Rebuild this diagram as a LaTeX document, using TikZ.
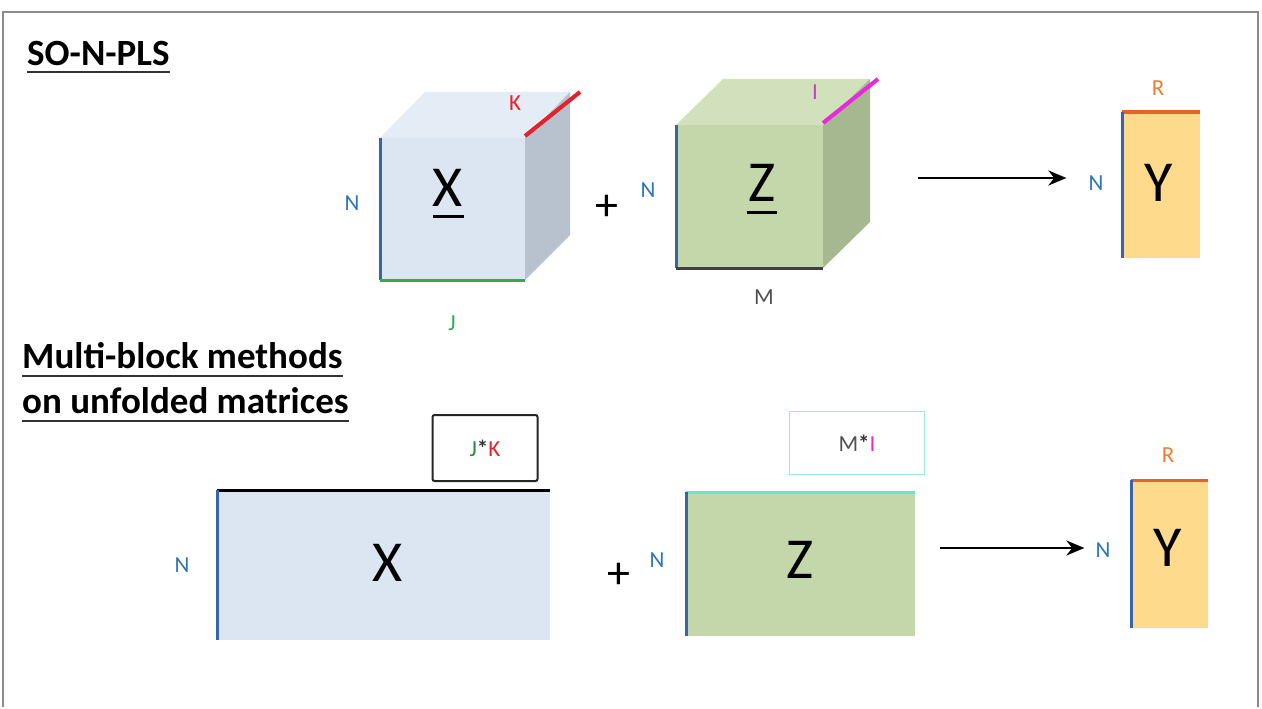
\documentclass[tikz,border=0pt]{standalone}
\usepackage{fontspec}
\setmainfont{Carlito}
\usetikzlibrary{arrows.meta}
\definecolor{xfront}{RGB}{220,230,242}
\definecolor{xtop}{RGB}{228,236,246}
\definecolor{xside}{RGB}{184,194,206}
\definecolor{zfront}{RGB}{196,215,170}
\definecolor{ztop}{RGB}{208,225,188}
\definecolor{zside}{RGB}{166,184,144}
\definecolor{yfill}{RGB}{254,218,140}
\definecolor{nblue}{RGB}{46,117,182}
\definecolor{edgeblue}{RGB}{58,100,170}
\definecolor{jgreen}{RGB}{50,170,80}
\definecolor{kred}{RGB}{232,32,42}
\definecolor{imag}{RGB}{236,40,220}
\definecolor{rorange}{RGB}{237,125,49}
\definecolor{rline}{RGB}{232,96,44}
\definecolor{zcyan}{RGB}{110,225,210}
\definecolor{mgrey}{RGB}{80,80,80}
\definecolor{framegrey}{RGB}{140,140,140}
\begin{document}
\begin{tikzpicture}[x=1pt,y=-1pt,
  lbl/.style={inner sep=0pt,font=\fontsize{23}{25}\selectfont},
  big/.style={inner sep=0pt,font=\fontsize{58}{62}\selectfont},
  head/.style={inner sep=0pt,anchor=base west,font=\bfseries\fontsize{37}{40}\selectfont},
  plus/.style={inner sep=0pt,font=\fontsize{46}{48}\selectfont},
  face/.style={draw=none,inner sep=0pt,anchor=north west},
  arr/.style={line width=2.5pt,-{Stealth[length=18pt,width=15pt]}},
  edge/.style={line width=3pt}]
\useasboundingbox (0,0) rectangle (1262,709);
\draw[framegrey,line width=2pt] (3,707) -- (3,12) -- (1258,12) -- (1258,707);

% headings
\node[head] (h1) at (27,66) {SO-N-PLS};
\draw[line width=2.5pt,black!80] ([yshift=-6pt]h1.base west) -- ([yshift=-6pt]h1.base east);
\node[head] (h2) at (22,368) {Multi-block methods};
\draw[line width=2.5pt,black!80] ([yshift=-8pt]h2.base west) -- ([yshift=-8pt]h2.base east);
\node[head] (h3) at (22,413) {on unfolded matrices};
\draw[line width=2.5pt,black!80] ([yshift=-8pt]h3.base west) -- ([yshift=-8pt]h3.base east);

% ---------- top row: cube X
\coordinate (xa) at (380,138); \coordinate (xb) at (525,138);
\coordinate (xc) at (525,280); \coordinate (xd) at (380,280);
\fill[xtop] (xa) -- ++(45,-46) -- ++(145,0) -- (xb) -- cycle;
\fill[xside] (xb) -- ++(45,-46) -- ++(0,143) -- (xc) -- cycle;
\fill[xfront] (xa) rectangle (xc);
\node[big] (X1) at (448,188) {X};
\draw[line width=3pt] (433,216) -- (464,216);
\draw[edge,edgeblue] (xa) -- (xd);
\draw[edge,jgreen] (xd) -- (xc);
\coordinate (kend) at (580,92);
\draw[line width=4pt,kred] ([yshift=2pt]xb) -- (kend);
\node[lbl,nblue] (n1) at (352,203) {N};
\node[lbl,jgreen] (j1) at (452,323) {J};
\node[lbl,kred] (k1) at (515,103) {K};
\node[plus] (p1) at (607,208) {+};

% cube Z
\coordinate (za) at (676,125); \coordinate (zb) at (823,125);
\coordinate (zc) at (823,268); \coordinate (zd) at (676,268);
\fill[ztop] (za) -- ++(47,-46) -- ++(147,0) -- (zb) -- cycle;
\fill[zside] (zb) -- ++(47,-46) -- ++(0,143) -- (zc) -- cycle;
\fill[zfront] (za) rectangle (zc);
\node[big] (Z1) at (762,183) {Z};
\draw[line width=3pt] (747,212) -- (777,212);
\draw[edge,edgeblue] (za) -- (zd);
\draw[edge,black!75] (zd) -- (zc);
\coordinate (iend) at (878,79);
\draw[line width=4pt,imag] ([yshift=2pt]zb) -- (iend);
\node[lbl,nblue] (n2) at (648,190) {N};
\node[lbl,mgrey] (m1) at (764,297) {M};
\node[lbl,imag!70!gray] (i1) at (815,92) {I};

% Y top
\node[face,fill=yfill,minimum width=78pt,minimum height=146pt] (Y1box) at (1122,112) {};
\node[big] (Y1) at (1159,183) {Y};
\draw[edge,rline] (Y1box.north west) -- (Y1box.north east);
\draw[edge,edgeblue] (Y1box.north west) -- (Y1box.south west);
\node[lbl,nblue] (n3) at (1096,183) {N};
\node[lbl,rorange] (r1) at (1158,88) {R};
\coordinate (a1s) at (918,178);
\draw[arr] (a1s) -- ([xshift=-22pt]n3.west |- a1s);

% ---------- bottom row
\node[face,fill=xfront,minimum width=333pt,minimum height=150pt] (X2box) at (217,490) {};
\node[big] (X2) at (388,563) {X};
\draw[edge,black] (X2box.north west) -- (X2box.north east);
\draw[edge,edgeblue] (X2box.north west) -- (X2box.south west);
\node[lbl,nblue] (n4) at (182,565) {N};
\node[draw=black!85,line width=2pt,rounded corners=2pt,minimum width=105pt,minimum height=66pt,inner sep=0pt,
  font=\fontsize{23}{25}\selectfont] (jk) at (485,448) {\textcolor{jgreen!80!black}{J}\textcolor{black!80}{\textbf{*}}\textcolor{kred}{K}};
\node[plus] (p2) at (619,576) {+};

\node[face,fill=zfront,minimum width=229pt,minimum height=144pt] (Z2box) at (686,492) {};
\node[big] (Z2) at (800,560) {Z};
\draw[edge,zcyan] (Z2box.north west) -- (Z2box.north east);
\draw[edge,edgeblue] (Z2box.north west) -- (Z2box.south west);
\node[lbl,nblue] (n5) at (657,560) {N};
\node[draw=zcyan!70,line width=1.6pt,minimum width=135pt,minimum height=63pt,inner sep=0pt,
  font=\fontsize{23}{25}\selectfont] (mi) at (857,443) {\textcolor{mgrey}{M}\textcolor{black!80}{\textbf{*}}\textcolor{imag}{I}};

\node[face,fill=yfill,minimum width=77pt,minimum height=148pt] (Y2box) at (1131,480) {};
\node[big] (Y2) at (1168,548) {Y};
\draw[edge,rline] (Y2box.north west) -- (Y2box.north east);
\draw[edge,edgeblue] (Y2box.north west) -- (Y2box.south west);
\node[lbl,nblue] (n6) at (1103,550) {N};
\node[lbl,rorange] (r2) at (1168,455) {R};
\coordinate (a2s) at (940,548);
\draw[arr] (a2s) -- ([xshift=-11pt]n6.west |- a2s);
\end{tikzpicture}
\end{document}
